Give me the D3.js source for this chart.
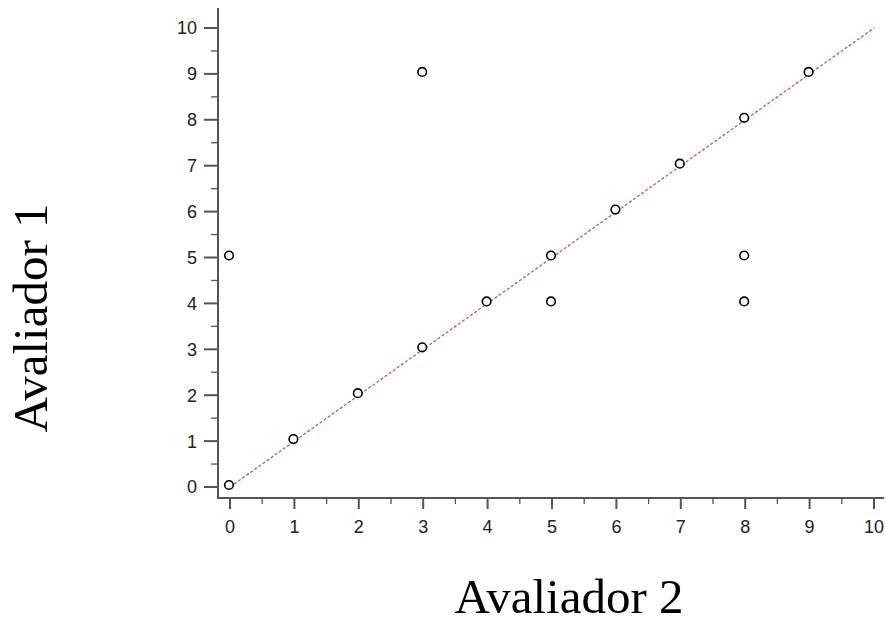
<!DOCTYPE html>
<html>
<head>
<meta charset="utf-8">
<script src="https://cdn.jsdelivr.net/npm/d3@7"></script>
<style>
  body { margin: 0; background: #fff; }
  svg { display: block; }
</style>
</head>
<body>
<div id="chart"></div>
<script>
// scores given by each rater
var avaliador2 = [0, 0, 1, 2, 3, 3, 4, 5, 5, 6, 7, 8, 8, 8, 9];
var avaliador1 = [0, 5, 1, 2, 3, 9, 4, 5, 4, 6, 7, 8, 5, 4, 9];
var tickValues = [0, 1, 2, 3, 4, 5, 6, 7, 8, 9, 10];
var minorTicks = [0.5, 1.5, 2.5, 3.5, 4.5, 5.5, 6.5, 7.5, 8.5, 9.5];
var identityLine = [0, 10];

var width = 886, height = 623;

var svg = d3.select("#chart").append("svg")
    .attr("width", width)
    .attr("height", height);

var x = d3.scaleLinear().domain([0, 10]).range([230, 874]);
var y = d3.scaleLinear().domain([0, 10]).range([487, 28]);

var axisColor = "#555";
var originX = 218, originY = 498;

// minor ticks
svg.selectAll(".xminor").data(minorTicks).enter().append("line")
    .attr("x1", d => x(d)).attr("x2", d => x(d))
    .attr("y1", originY).attr("y2", originY + 6)
    .attr("stroke", axisColor).attr("stroke-width", 1.3);
svg.selectAll(".yminor").data(minorTicks).enter().append("line")
    .attr("y1", d => y(d)).attr("y2", d => y(d))
    .attr("x1", originX).attr("x2", originX - 7)
    .attr("stroke", axisColor).attr("stroke-width", 1.3);

// major ticks
svg.selectAll(".xmajor").data(tickValues).enter().append("line")
    .attr("x1", d => x(d)).attr("x2", d => x(d))
    .attr("y1", originY).attr("y2", originY + 11)
    .attr("stroke", axisColor).attr("stroke-width", 2);
svg.selectAll(".ymajor").data(tickValues).enter().append("line")
    .attr("y1", d => y(d)).attr("y2", d => y(d))
    .attr("x1", originX).attr("x2", originX - 14)
    .attr("stroke", axisColor).attr("stroke-width", 2);

// axis lines
svg.append("line")
    .attr("x1", originX).attr("x2", originX)
    .attr("y1", 8).attr("y2", originY + 1)
    .attr("stroke", axisColor).attr("stroke-width", 2);
svg.append("line")
    .attr("x1", originX - 1).attr("x2", 884)
    .attr("y1", originY).attr("y2", originY)
    .attr("stroke", axisColor).attr("stroke-width", 2);

// tick labels
svg.selectAll(".xlabel").data(tickValues).enter().append("text")
    .attr("x", d => x(d))
    .attr("y", 533)
    .attr("text-anchor", "middle")
    .attr("font-family", "Liberation Sans, Arial, sans-serif")
    .attr("font-size", 18)
    .attr("fill", "#222")
    .text(d => d);
svg.selectAll(".ylabel").data(tickValues).enter().append("text")
    .attr("x", 197)
    .attr("y", d => y(d))
    .attr("dy", "0.36em")
    .attr("text-anchor", "end")
    .attr("font-family", "Liberation Sans, Arial, sans-serif")
    .attr("font-size", 18)
    .attr("fill", "#222")
    .text(d => d);

// identity line
svg.append("line")
    .attr("x1", x(identityLine[0])).attr("y1", y(identityLine[0]))
    .attr("x2", x(identityLine[1])).attr("y2", y(identityLine[1]))
    .attr("stroke", "#c05a5a")
    .attr("stroke-width", 1.3)
    .attr("stroke-dasharray", "3,2");

// points
svg.selectAll(".dot").data(avaliador2).enter().append("circle")
    .attr("cx", (d, i) => x(d) - 1)
    .attr("cy", (d, i) => y(avaliador1[i]) - 2)
    .attr("r", 4.3)
    .attr("fill", "#fff")
    .attr("stroke", "#000")
    .attr("stroke-width", 1.6);

// axis titles
svg.append("text")
    .attr("x", 569)
    .attr("y", 613)
    .attr("text-anchor", "middle")
    .attr("font-family", "Liberation Serif, Times New Roman, serif")
    .attr("font-size", 49)
    .attr("fill", "#000")
    .text("Avaliador 2");
svg.append("text")
    .attr("transform", "translate(47,318) rotate(-90)")
    .attr("text-anchor", "middle")
    .attr("font-family", "Liberation Serif, Times New Roman, serif")
    .attr("font-size", 49)
    .attr("fill", "#000")
    .text("Avaliador 1");
</script>
</body>
</html>
